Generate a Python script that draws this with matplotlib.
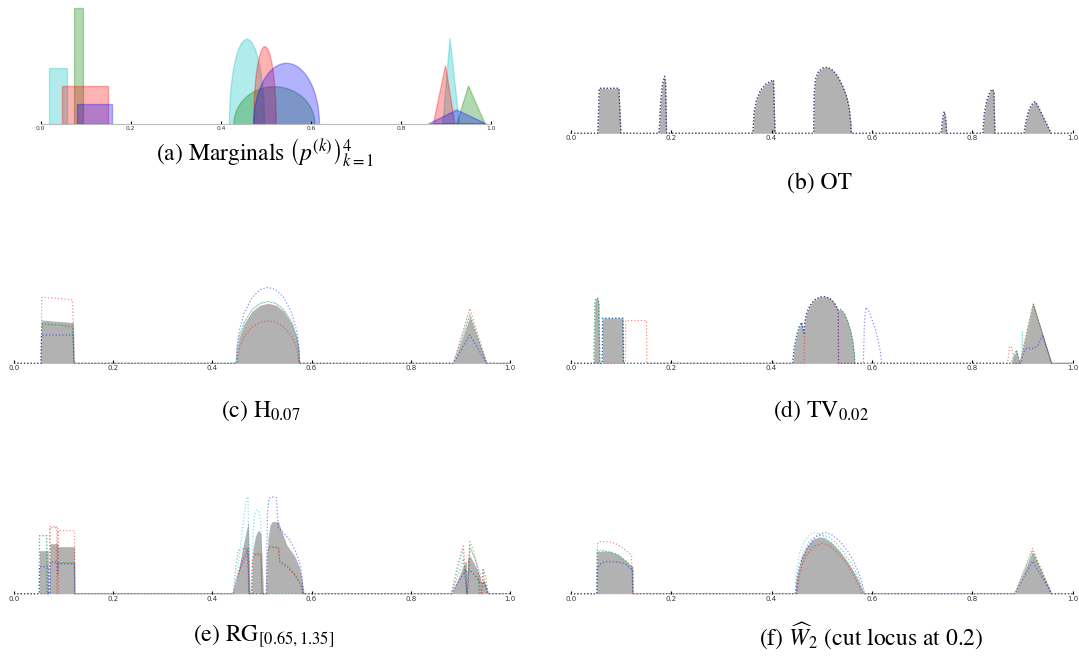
import numpy as np
import matplotlib
matplotlib.use("Agg")
import matplotlib.pyplot as plt
from matplotlib.patches import Rectangle, Ellipse, Polygon

plt.rcParams['mathtext.fontset'] = 'stix'

# figure size in pixels
W, H = 1079, 664

COLORS = ['c', 'g', 'r', 'b']
TICKS = [0.0, 0.2, 0.4, 0.6, 0.8, 1.0]
TICK_LABELS = ['0.0', '0.2', '0.4', '0.6', '0.8', '1.0']

# ---- (a) marginals: (left, right, height) / (centre, half width, height) / (left, peak, right, height)
rects = [(0.0185, 0.058, 56.0), (0.073, 0.093, 115.7), (0.048, 0.149, 38.3), (0.080, 0.158, 20.3)]
ellipses = [(0.458, 0.039, 84.7), (0.519, 0.090, 37.3), (0.498, 0.025, 77.3), (0.546, 0.073, 60.7)]
triangles = [(0.893, 0.909, 0.930, 85.7), (0.924, 0.950, 0.987, 38.0),
             (0.872, 0.899, 0.920, 58.3), (0.861, 0.924, 0.990, 14.0)]

# ---- (b) OT barycenter (all four curves coincide)
ot_bary = [(0, 0), (0.054, 0), (0.057, 45), (0.096, 45), (0.100, 0),
           (0.176, 0), (0.179, 30), (0.183, 50), (0.187, 57), (0.189, 50), (0.191, 0),
           (0.363, 0), (0.365, 20), (0.370, 33), (0.378, 43), (0.388, 49), (0.398, 52), (0.404, 53.3), (0.407, 0),
           (0.484, 0), (0.485, 40), (0.488, 55), (0.494, 62), (0.503, 65.5), (0.512, 66), (0.522, 63),
           (0.532, 57), (0.541, 48), (0.549, 38), (0.555, 25), (0.558, 10), (0.559, 0),
           (0.738, 0), (0.741, 15), (0.744, 21.7), (0.747, 15), (0.749, 0),
           (0.821, 0), (0.824, 20), (0.829, 33), (0.835, 41), (0.839, 44), (0.843, 42), (0.845, 0),
           (0.903, 0), (0.907, 12), (0.912, 22), (0.918, 28.5), (0.925, 31.7), (0.930, 28), (0.957, 0), (1, 0)]

# ---- (c) H_0.07
h_bary = [(0, 0), (0.054, 0), (0.055, 43.3), (0.120, 40.7), (0.121, 0),
          (0.448, 0), (0.4499, 14.6), (0.4544, 26.2), (0.464, 39.7), (0.480, 52), (0.496, 58.1), (0.512, 60),
          (0.528, 58.1), (0.544, 52), (0.560, 39.7), (0.5696, 26.2), (0.574, 14.6), (0.576, 0),
          (0.886, 0), (0.919, 46.7), (0.953, 0), (1, 0)]
h_cyan = [(0, 0), (0.055, 0), (0.056, 38.5), (0.090, 38), (0.118, 35.5), (0.121, 0),
          (0.448, 0), (0.4499, 15.1), (0.4544, 27), (0.464, 41), (0.480, 53.7), (0.496, 60), (0.512, 62),
          (0.528, 60), (0.544, 53.7), (0.560, 41), (0.5696, 27), (0.574, 15.1), (0.576, 0),
          (0.886, 0), (0.919, 50), (0.953, 0), (1, 0)]
h_green = [(0, 0), (0.055, 0), (0.056, 39.3), (0.090, 38.5), (0.118, 36.7), (0.121, 0),
           (0.448, 0), (0.4499, 15), (0.4544, 26.9), (0.464, 40.8), (0.480, 53.4), (0.496, 59.7), (0.512, 61.7),
           (0.528, 59.7), (0.544, 53.4), (0.560, 40.8), (0.5696, 26.9), (0.574, 15), (0.576, 0),
           (0.886, 0), (0.919, 48), (0.953, 0), (1, 0)]
h_red = [(0, 0), (0.055, 0), (0.056, 66), (0.090, 65), (0.118, 63.3), (0.121, 0),
         (0.450, 0), (0.4519, 10.3), (0.4562, 18.4), (0.4655, 28), (0.481, 36.6), (0.4965, 40.9), (0.512, 42.3),
         (0.5275, 40.9), (0.543, 36.6), (0.5585, 28), (0.5678, 18.4), (0.5721, 10.3), (0.574, 0),
         (0.886, 0), (0.919, 55), (0.953, 0), (1, 0)]
h_blue = [(0, 0), (0.054, 0), (0.055, 28.3), (0.120, 28.3), (0.121, 0),
          (0.448, 0), (0.4499, 18.5), (0.4544, 33.1), (0.464, 50.2), (0.480, 65.8), (0.496, 73.6), (0.512, 76),
          (0.528, 73.6), (0.544, 65.8), (0.560, 50.2), (0.5696, 33.1), (0.574, 18.5), (0.576, 0),
          (0.886, 0), (0.919, 28.3), (0.953, 0), (1, 0)]

# ---- (d) TV_0.02
tv_bary = [(0, 0), (0.046, 0), (0.048, 60), (0.050, 65), (0.054, 65), (0.056, 60), (0.058, 0),
           (0.063, 0), (0.0635, 45), (0.104, 45), (0.105, 0),
           (0.442, 0), (0.445, 15), (0.450, 28), (0.455, 36), (0.460, 41), (0.465, 30), (0.466, 40),
           (0.470, 50), (0.477, 58), (0.486, 63.5), (0.496, 66), (0.5066, 66.6), (0.516, 65), (0.524, 61),
           (0.530, 56), (0.533, 53), (0.538, 54), (0.545, 50), (0.552, 42), (0.558, 32), (0.562, 22),
           (0.565, 10), (0.566, 0),
           (0.877, 0), (0.888, 13.3), (0.895, 0), (0.9216, 59.3), (0.958, 0), (1, 0)]
tv_cyan = [(0, 0), (0.046, 0), (0.048, 60), (0.050, 65), (0.054, 65), (0.056, 60), (0.058, 0),
           (0.063, 0), (0.0635, 45), (0.104, 45), (0.105, 0),
           (0.442, 0), (0.445, 15), (0.450, 28), (0.455, 36), (0.460, 41), (0.465, 30), (0.466, 40),
           (0.470, 50), (0.477, 58), (0.486, 63.5), (0.496, 66), (0.5066, 66.6), (0.516, 65), (0.524, 61),
           (0.530, 56), (0.533, 53), (0.538, 54), (0.545, 50), (0.552, 42), (0.558, 32), (0.562, 22),
           (0.565, 10), (0.566, 0),
           (0.877, 0), (0.888, 13.3), (0.895, 0), (0.898, 0), (0.8995, 31.7), (0.901, 13),
           (0.9216, 59.3), (0.958, 0), (1, 0)]
tv_green = tv_bary
tv_red = [(0, 0), (0.109, 0), (0.1095, 42.7), (0.151, 42.7), (0.1515, 0),
          (0.465, 0), (0.466, 40), (0.470, 50), (0.477, 58), (0.486, 63.5), (0.496, 66), (0.5066, 66.6),
          (0.516, 65), (0.524, 61), (0.530, 56), (0.533, 53), (0.5335, 0),
          (0.870, 0), (0.874, 16.7), (0.878, 16.7), (0.882, 8), (0.886, 0),
          (0.895, 0), (0.9216, 59.3), (0.958, 0), (1, 0)]
tv_blue = [(0, 0), (0.063, 0), (0.0635, 45), (0.104, 45), (0.105, 0),
           (0.442, 0), (0.445, 15), (0.450, 28), (0.455, 36), (0.460, 41), (0.465, 30), (0.466, 40),
           (0.470, 50), (0.477, 58), (0.486, 63.5), (0.496, 66), (0.5066, 66.6), (0.516, 65), (0.524, 61),
           (0.530, 56), (0.533, 53), (0.5335, 0),
           (0.583, 0), (0.585, 40), (0.588, 56), (0.594, 52), (0.600, 44), (0.607, 34), (0.613, 22),
           (0.617, 11), (0.6195, 0),
           (0.896, 0), (0.903, 12), (0.908, 15), (0.920, 15), (0.930, 17), (0.935, 23), (0.940, 28),
           (0.958, 0), (1, 0)]

# ---- (e) RG_[0.65,1.35]
rg_bary = [(0, 0), (0.051, 0), (0.0515, 43), (0.069, 43), (0.0695, 0), (0.072, 0), (0.0725, 50),
           (0.088, 50), (0.0885, 47), (0.122, 47), (0.1225, 0),
           (0.442, 0), (0.448, 12), (0.455, 30), (0.462, 48), (0.468, 62), (0.4725, 72), (0.476, 0),
           (0.479, 0), (0.482, 45), (0.487, 58), (0.4926, 63.7), (0.498, 60), (0.503, 0),
           (0.509, 0), (0.512, 55), (0.516, 68), (0.520, 72), (0.533, 72), (0.540, 62), (0.550, 48.7),
           (0.5665, 37), (0.575, 27), (0.580, 17), (0.585, 0),
           (0.882, 0), (0.895, 15), (0.905, 27), (0.912, 33), (0.9125, 0), (0.9135, 0), (0.914, 34),
           (0.919, 38), (0.930, 28), (0.940, 17), (0.942, 10), (0.947, 14), (0.951, 10), (0.956, 0), (1, 0)]
rg_cyan = [(0, 0), (0.051, 0), (0.0515, 58), (0.066, 58), (0.0665, 0), (0.073, 0), (0.0735, 30),
           (0.122, 30), (0.1225, 0),
           (0.442, 0), (0.450, 20), (0.4556, 43.7), (0.462, 70), (0.467, 88), (0.4704, 97), (0.472, 96),
           (0.474, 0), (0.480, 0), (0.482, 60), (0.485, 78), (0.489, 83.7), (0.494, 82), (0.498, 70),
           (0.4995, 0),
           (0.882, 0), (0.905, 44), (0.9126, 0), (0.914, 0), (0.919, 48), (0.940, 20), (0.956, 0), (1, 0)]
rg_green = [(0, 0), (0.051, 0), (0.0515, 58), (0.066, 58), (0.0665, 0), (0.072, 0), (0.0725, 66),
            (0.088, 66), (0.0885, 31), (0.122, 31), (0.1225, 0),
            (0.442, 0), (0.447, 25), (0.452, 43.7), (0.462, 45), (0.470, 45), (0.474, 0),
            (0.479, 0), (0.481, 35), (0.484, 40), (0.498, 40), (0.500, 0),
            (0.509, 0), (0.511, 40), (0.514, 47), (0.533, 47), (0.536, 32), (0.550, 28), (0.565, 20),
            (0.578, 10), (0.583, 0),
            (0.882, 0), (0.900, 25), (0.906, 35), (0.9126, 0), (0.914, 0), (0.919, 52), (0.925, 45),
            (0.935, 25), (0.938, 0), (0.943, 0), (0.947, 24), (0.952, 15), (0.956, 0), (1, 0)]
rg_red = [(0, 0), (0.072, 0), (0.0725, 67), (0.086, 67), (0.0865, 0), (0.089, 0), (0.0895, 63),
          (0.122, 63), (0.1225, 0),
          (0.442, 0), (0.452, 20), (0.465, 35), (0.472, 40), (0.474, 0),
          (0.479, 0), (0.481, 33), (0.486, 39), (0.498, 39), (0.500, 0),
          (0.509, 0), (0.511, 40), (0.514, 46), (0.533, 46), (0.536, 31), (0.550, 27), (0.565, 19),
          (0.578, 9), (0.583, 0),
          (0.882, 0), (0.895, 30), (0.906, 47.7), (0.9126, 0), (0.914, 0), (0.919, 45), (0.930, 35),
          (0.938, 20), (0.940, 0), (0.943, 0), (0.945, 24), (0.950, 10), (0.953, 0), (1, 0)]
rg_blue = [(0, 0), (0.051, 0), (0.0515, 27), (0.069, 27), (0.0695, 0), (0.0725, 0), (0.073, 31.7),
           (0.087, 31.7), (0.088, 20), (0.090, 30), (0.122, 30), (0.1225, 0),
           (0.442, 0), (0.450, 15), (0.460, 33), (0.469, 42), (0.472, 45), (0.474, 0),
           (0.509, 0), (0.511, 80), (0.514, 95), (0.520, 97), (0.529, 96), (0.531, 80), (0.533, 66),
           (0.545, 60), (0.556, 53.7), (0.567, 43), (0.5766, 30), (0.581, 15), (0.583, 0),
           (0.882, 0), (0.900, 15), (0.912, 24), (0.9126, 0), (0.914, 0), (0.915, 22), (0.919, 23.7),
           (0.930, 18), (0.940, 10), (0.945, 12), (0.952, 6), (0.956, 0), (1, 0)]

# ---- (f) W2 hat
w2_bary = [(0, 0), (0.052, 0), (0.0525, 42), (0.065, 42.5), (0.080, 42), (0.095, 39), (0.110, 33),
           (0.118, 29), (0.1235, 27), (0.124, 0),
           (0.447, 0), (0.449, 12), (0.452, 20), (0.460, 37), (0.470, 47), (0.482, 54), (0.495, 57),
           (0.505, 56), (0.520, 51), (0.535, 43), (0.550, 33), (0.565, 21), (0.575, 11), (0.584, 0),
           (0.885, 0), (0.920, 42), (0.958, 0), (1, 0)]
w2_cyan = [(0, 0), (0.052, 0), (0.0525, 44), (0.065, 43), (0.080, 41), (0.095, 37), (0.110, 30),
           (0.120, 24), (0.1235, 22), (0.124, 0),
           (0.447, 0), (0.450, 25), (0.456, 41), (0.465, 52), (0.475, 58.5), (0.483, 61), (0.493, 60),
           (0.505, 57), (0.520, 51), (0.535, 43), (0.550, 33), (0.565, 21), (0.575, 11), (0.583, 0),
           (0.885, 0), (0.920, 40), (0.958, 0), (1, 0)]
w2_green = [(0, 0), (0.052, 0), (0.0525, 42), (0.065, 42.5), (0.080, 42), (0.095, 39), (0.110, 33),
            (0.118, 29), (0.1235, 27), (0.124, 0),
            (0.447, 0), (0.450, 15), (0.455, 28), (0.465, 43), (0.477, 53), (0.490, 58), (0.500, 58.7),
            (0.513, 57), (0.528, 51), (0.543, 42), (0.558, 31), (0.570, 20), (0.578, 10), (0.585, 0),
            (0.885, 0), (0.920, 43), (0.958, 0), (1, 0)]
w2_red = [(0, 0), (0.053, 0), (0.0535, 50), (0.058, 52), (0.075, 52), (0.090, 50), (0.105, 45.3),
          (0.115, 41), (0.121, 38.7), (0.1235, 0),
          (0.451, 0), (0.455, 18), (0.462, 30), (0.472, 40), (0.485, 47.5), (0.500, 50.3), (0.512, 49),
          (0.525, 44), (0.540, 36), (0.555, 26), (0.567, 15), (0.576, 6), (0.580, 0),
          (0.885, 0), (0.920, 45.3), (0.958, 0), (1, 0)]
w2_blue = [(0, 0), (0.052, 0), (0.0525, 25), (0.060, 30), (0.070, 32), (0.088, 32), (0.100, 31),
           (0.110, 29.7), (0.120, 25.3), (0.1235, 24), (0.124, 0),
           (0.449, 0), (0.453, 20), (0.460, 33), (0.470, 44), (0.482, 53), (0.495, 59.5), (0.507, 61.3),
           (0.520, 59), (0.535, 53), (0.550, 44), (0.562, 34), (0.572, 23), (0.580, 12), (0.585, 0),
           (0.885, 0), (0.920, 32.7), (0.958, 0), (1, 0)]

# caption centre x, y (pixels), text
captions = [
    (265, 153, r"(a) Marginals $\left(p^{(k)}\right)_{k=1}^{4}$"),
    (820, 183, "(b) OT"),
    (261, 411, r"(c) $\mathrm{H}_{0.07}$"),
    (821, 411, r"(d) $\mathrm{TV}_{0.02}$"),
    (264, 636, r"(e) $\mathrm{RG}_{[0.65,1.35]}$"),
    (871, 636, r"(f) $\widehat{W}_2$ (cut locus at 0.2)"),
]


def make_axes(fig, x0, x1, base, height, labelsize=5.0):
    ax = fig.add_axes([x0 / W, (H - base) / H, (x1 - x0) / W, height / H])
    ax.set_xlim(0, 1)
    ax.set_ylim(0, height)
    ax.set_yticks([])
    ax.set_xticks(TICKS)
    ax.set_xticklabels(TICK_LABELS)
    ax.tick_params(axis='x', direction='in', length=2.5, width=0.8, pad=1.5,
                   labelsize=labelsize, labelcolor='#333333')
    for s in ['top', 'left', 'right', 'bottom']:
        ax.spines[s].set_visible(False)
    ax.patch.set_alpha(0)
    return ax


def draw_panel(ax, bary, curves):
    b = np.array(bary)
    ax.fill_between(b[:, 0], b[:, 1], 0, color='k', alpha=0.3, lw=0)
    for pts, col in zip(curves, COLORS):
        p = np.array(pts)
        ax.plot(p[:, 0], p[:, 1], ':', color=col, lw=0.9, alpha=0.45, clip_on=False)


fig = plt.figure(figsize=(W / 100, H / 100), dpi=100)

# (a)
ax = make_axes(fig, 40.7, 491, 124, 124, labelsize=4.3)
ax.spines['bottom'].set_visible(True)
ax.spines['bottom'].set_color('#bbbbbb')
ax.spines['bottom'].set_linewidth(0.8)
for i, col in enumerate(COLORS):
    l, r, h = rects[i]
    ax.add_patch(Rectangle((l, 0), r - l, h, facecolor=col, edgecolor=col, alpha=0.3, lw=1))
    c, w, h = ellipses[i]
    ax.add_patch(Ellipse((c, 0), 2 * w, 2 * h, facecolor=col, edgecolor=col, alpha=0.3, lw=1))
    l, pk, r, h = triangles[i]
    ax.add_patch(Polygon([(l, 0), (pk, h), (r, 0)], closed=True, facecolor=col,
                         edgecolor=col, alpha=0.3, lw=1))

# (b)
ax = make_axes(fig, 570.7, 1072.7, 133.3, 100)
draw_panel(ax, ot_bary, [ot_bary] * 4)

# (c)
ax = make_axes(fig, 14, 510, 363.3, 100)
draw_panel(ax, h_bary, [h_cyan, h_green, h_red, h_blue])

# (d)
ax = make_axes(fig, 570.7, 1072.7, 363.3, 100)
draw_panel(ax, tv_bary, [tv_cyan, tv_green, tv_red, tv_blue])

# (e)
ax = make_axes(fig, 14, 510, 593.7, 105)
draw_panel(ax, rg_bary, [rg_cyan, rg_green, rg_red, rg_blue])

# (f)
ax = make_axes(fig, 570.7, 1072.7, 593.7, 100)
draw_panel(ax, w2_bary, [w2_cyan, w2_green, w2_red, w2_blue])

for x, y, s in captions:
    fig.text(x / W, 1 - y / H, s, ha='center', va='center', fontsize=17,
             family='STIXGeneral')

fig.savefig("out.png", dpi=100)
